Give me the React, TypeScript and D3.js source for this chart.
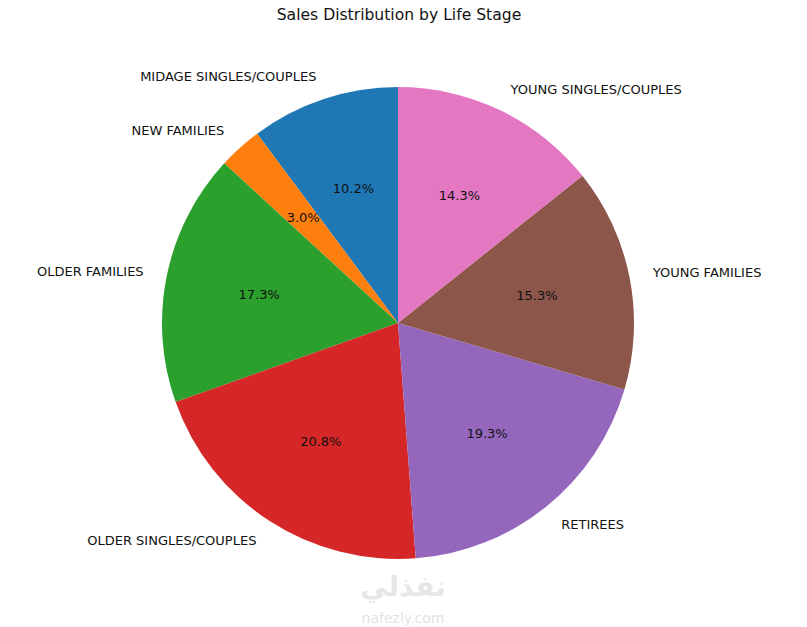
import { useEffect, useRef } from "react"
import * as d3 from "d3"

const stages = [
  "MIDAGE SINGLES/COUPLES",
  "NEW FAMILIES",
  "OLDER FAMILIES",
  "OLDER SINGLES/COUPLES",
  "RETIREES",
  "YOUNG FAMILIES",
  "YOUNG SINGLES/COUPLES",
]
const shares = [10.2, 3.0, 17.3, 20.8, 19.3, 15.3, 14.3]
const colors = ["#1f77b4", "#ff7f0e", "#2ca02c", "#d62728", "#9467bd", "#8c564b", "#e377c2"]

export default function App() {
  const svgRef = useRef<SVGSVGElement>(null)

  useEffect(() => {
    if (!svgRef.current) return
    const svg = d3.select(svgRef.current)
    svg.selectAll("*").remove()

    const width = 807
    const height = 627
    const cx = 398
    const cy = 323
    const r = 236
    const font = "DejaVu Sans, sans-serif"

    svg.attr("width", width).attr("height", height)

    svg
      .append("rect")
      .attr("width", width)
      .attr("height", height)
      .attr("fill", "white")

    // Title
    svg
      .append("text")
      .attr("x", 399)
      .attr("y", 15)
      .attr("text-anchor", "middle")
      .attr("dominant-baseline", "central")
      .attr("font-family", font)
      .attr("font-size", "15.6px")
      .attr("fill", "#111")
      .text("Sales Distribution by Life Stage")

    const data = stages.map((s, i) => ({ stage: s, value: shares[i], color: colors[i] }))

    // counterclockwise from 12 o'clock, like matplotlib startangle=90
    const pie = d3
      .pie<typeof data[0]>()
      .sort(null)
      .value(d => d.value)
      .startAngle(0)
      .endAngle(-2 * Math.PI)

    const arcs = pie(data)
    const arc = d3.arc<d3.PieArcDatum<typeof data[0]>>().innerRadius(0).outerRadius(r)

    const g = svg.append("g").attr("transform", `translate(${cx},${cy})`)

    g.selectAll("path")
      .data(arcs)
      .enter()
      .append("path")
      .attr("d", arc)
      .attr("fill", d => d.data.color)

    const mid = (d: d3.PieArcDatum<typeof data[0]>) => (d.startAngle + d.endAngle) / 2

    // Category labels
    g.selectAll(".label")
      .data(arcs)
      .enter()
      .append("text")
      .attr("class", "label")
      .attr("x", d => Math.sin(mid(d)) * r * 1.1)
      .attr("y", d => -Math.cos(mid(d)) * r * 1.1)
      .attr("text-anchor", d => (Math.sin(mid(d)) < 0 ? "end" : "start"))
      .attr("dominant-baseline", "central")
      .attr("font-family", font)
      .attr("font-size", "13px")
      .attr("fill", "#111")
      .text(d => d.data.stage)

    // Percent labels
    g.selectAll(".pct")
      .data(arcs)
      .enter()
      .append("text")
      .attr("class", "pct")
      .attr("x", d => Math.sin(mid(d)) * r * 0.6)
      .attr("y", d => -Math.cos(mid(d)) * r * 0.6)
      .attr("text-anchor", "middle")
      .attr("dominant-baseline", "central")
      .attr("font-family", font)
      .attr("font-size", "13px")
      .attr("fill", "#111")
      .text(d => `${d.data.value.toFixed(1)}%`)

    // Watermark
    svg
      .append("text")
      .attr("x", 403)
      .attr("y", 586)
      .attr("text-anchor", "middle")
      .attr("dominant-baseline", "central")
      .attr("font-family", "DejaVu Sans, sans-serif")
      .attr("font-weight", "bold")
      .attr("font-size", "28px")
      .attr("fill", "#e6e6e6")
      .text("نفذلي")

    svg
      .append("text")
      .attr("x", 403)
      .attr("y", 618)
      .attr("text-anchor", "middle")
      .attr("dominant-baseline", "central")
      .attr("font-family", "DejaVu Sans, sans-serif")
      .attr("font-size", "14px")
      .attr("fill", "#e3e3e3")
      .text("nafezly.com")
  }, [])

  return (
    <div style={{ position: "absolute", left: 0, top: 0 }}>
      <svg ref={svgRef} style={{ display: "block" }} />
    </div>
  )
}
